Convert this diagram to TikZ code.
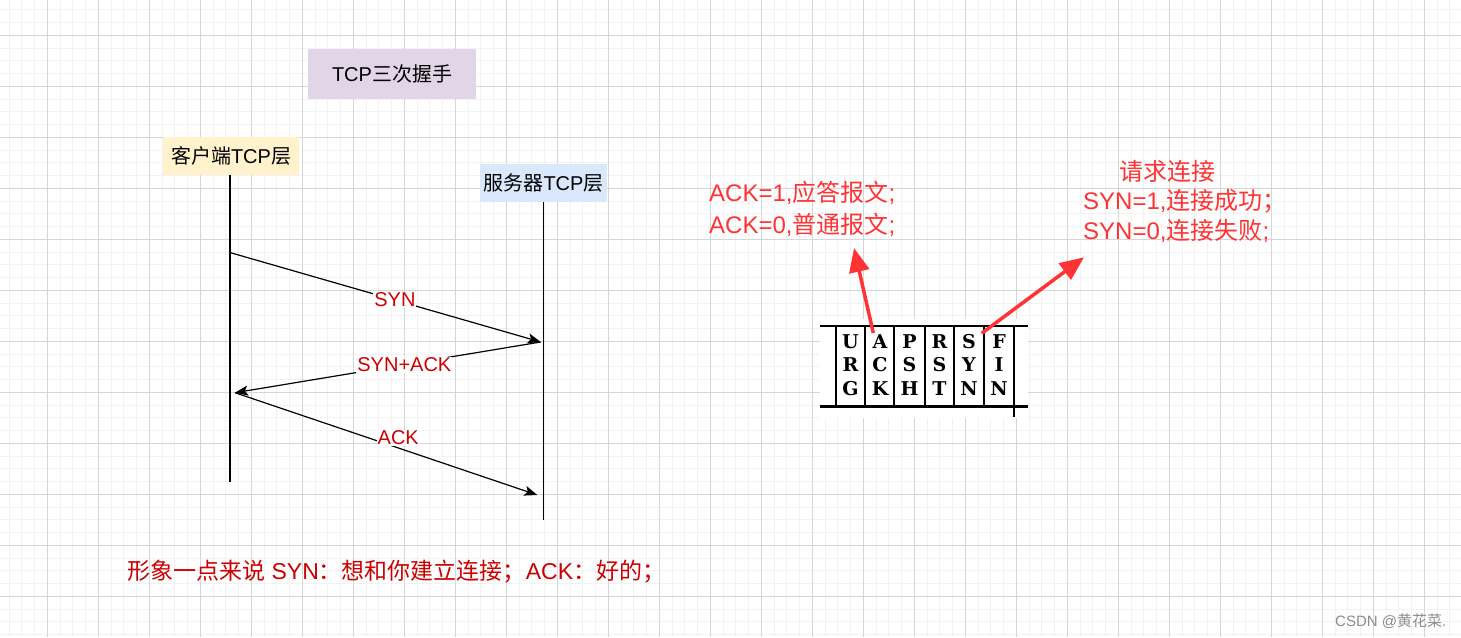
\documentclass[tikz,border=0pt]{standalone}
\usepackage{fontspec}
\setmainfont{Liberation Sans}
\newfontfamily\zhfont{Noto Sans CJK SC}
\newfontfamily\flagfont{DejaVu Serif}
\usetikzlibrary{arrows.meta}
\definecolor{titleFill}{HTML}{E1D5E7}
\definecolor{clientFill}{HTML}{FFF2CC}
\definecolor{serverFill}{HTML}{DAE8FC}
\definecolor{labelRed}{HTML}{CC0000}
\definecolor{noteRed}{HTML}{FF3333}
\definecolor{gridMajor}{HTML}{D6D6D6}
\definecolor{gridMinor}{HTML}{F2F2F2}
\definecolor{markGray}{HTML}{8C8C8C}
\newcommand{\zh}[1]{{\zhfont #1}}

\begin{document}
\begin{tikzpicture}[x=1pt,y=-1pt,
  layer/.style={inner sep=0pt,font=\fontsize{20}{24}\selectfont},
  life/.style={line width=1.2pt},
  msg/.style={line width=1.2pt,-{Stealth[length=13pt,width=10pt,inset=3pt]}},
  msglabel/.style={fill=white,text=labelRed,inner sep=1pt,font=\fontsize{20}{24}\selectfont},
  note/.style={text=noteRed,inner sep=0pt,align=left},
  pointer/.style={draw=noteRed,line width=3.5pt,-{Triangle[length=24pt,width=20pt]}},
  flag/.style={inner sep=0pt,font=\flagfont\bfseries\fontsize{19}{19}\selectfont}
]
\useasboundingbox (0,0) rectangle (1461,637);
\fill[white] (0,0) rectangle (1461,637);
% grid paper
\begin{scope}
\clip (0,0) rectangle (1461,637);
\foreach \k in {-3,...,111}
  \draw[gridMinor,line width=0.8pt] (47.3+12.75*\k,0) -- (47.3+12.75*\k,637);
\foreach \k in {-2,...,47}
  \draw[gridMinor,line width=0.8pt] (0,35.3+12.75*\k) -- (1461,35.3+12.75*\k);
\foreach \k in {0,...,27}
  \draw[gridMajor,line width=0.8pt] (47.3+51*\k,0) -- (47.3+51*\k,637);
\foreach \k in {0,...,11}
  \draw[gridMajor,line width=0.8pt] (0,35.3+51*\k) -- (1461,35.3+51*\k);
\end{scope}

\node[layer,fill=titleFill,minimum width=168pt,minimum height=50pt] (title) at (392,74) {TCP\zh{三次握手}};
\node[layer,fill=clientFill,minimum width=136pt,minimum height=38pt] (client) at (231,156) {\zh{客户端}TCP\zh{层}};
\node[layer,fill=serverFill,minimum width=127pt,minimum height=37.5pt] (server) at (543.5,183) {\zh{服务器}TCP\zh{层}};

\coordinate (clientEnd) at (230,482);
\coordinate (serverEnd) at (543.5,520);
\draw[life] (clientEnd |- client.south) -- (clientEnd);
\draw[life] (server.south) -- (serverEnd);

\coordinate (synFrom) at (230.5,252.7);
\coordinate (synTo) at (540.7,342);
\coordinate (synackTo) at (235,392.7);
\coordinate (ackTo) at (537.3,495);
\draw[msg] (synFrom) -- node[msglabel,pos=0.53] (synLabel) {SYN} (synTo);
\draw[msg] (synTo) -- node[msglabel,pos=0.446] (synackLabel) {SYN+ACK} (synackTo);
\draw[msg] (synackTo) -- node[msglabel,pos=0.54,yshift=10pt] (ackLabel) {ACK} (ackTo);

% flag field
\fill[white] (820,319) rectangle (1028,418);
\draw[line width=2.4pt] (820,326) -- (1028,326);
\draw[line width=2.4pt] (820,406.5) -- (1028,406.5);
\foreach \x in {836,865,894,925,954,984}
  \draw[line width=1.5pt] (\x,326) -- (\x,406.5);
\draw[line width=1.5pt] (1014,326) -- (1014,417);
\foreach \name/\x/\a/\b/\c in {urg/850.5/U/R/G,ack/880/A/C/K,psh/909.5/P/S/H,rst/939.5/R/S/T,syn/969/S/Y/N,fin/999/F/I/N} {
  \node[flag] (flag\name1) at (\x,341.7) {\a};
  \node[flag] (flag\name2) at (\x,365) {\b};
  \node[flag] (flag\name3) at (\x,389) {\c};
}

\node[note,anchor=west,font=\fontsize{24}{31.5}\selectfont] (ackNote) at (709,209)
  {ACK=1,\zh{应答报文};\\ACK=0,\zh{普通报文};};
\node[note,anchor=west,font=\fontsize{24}{29.5}\selectfont] (synNote) at (1083,201)
  {\hspace*{36pt}\zh{请求连接}\\SYN=1,\zh{连接成功；}\\SYN=0,\zh{连接失败};};
\coordinate (ackFrom) at (873.3,333);
\coordinate (ackTip) at (854,248);
\coordinate (synFrom2) at (981.7,333.3);
\coordinate (synTip) at (1084,257.3);
\draw[pointer] (ackFrom) -- (ackTip);
\draw[pointer] (synFrom2) -- (synTip);

\node[anchor=west,inner sep=0pt,text=labelRed,font=\fontsize{23}{27}\selectfont] (summary) at (127,572)
  {\zh{形象一点来说} SYN\zh{：想和你建立连接；}ACK\zh{：好的；}};
\node[anchor=west,inner sep=0pt,text=markGray,font=\fontsize{15}{18}\selectfont] (mark) at (1335,621)
  {CSDN @\zh{黄花菜}.};
\end{tikzpicture}
\end{document}
